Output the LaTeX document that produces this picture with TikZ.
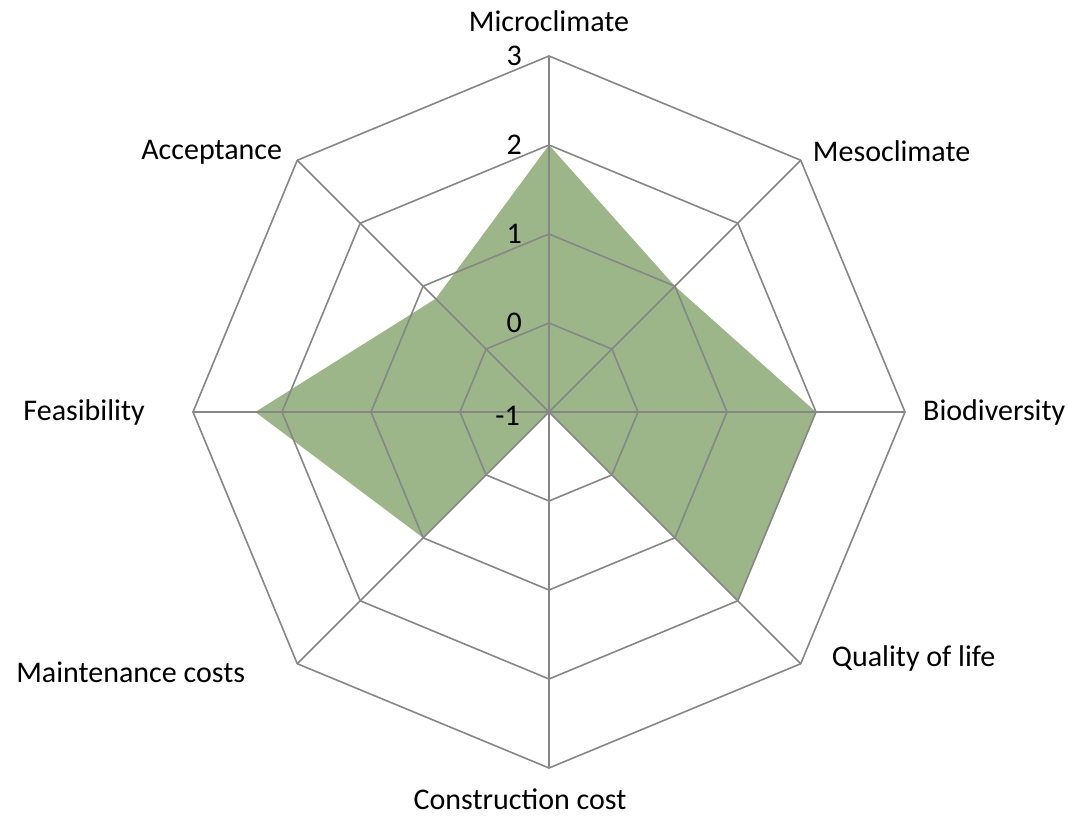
\documentclass[tikz,border=0pt]{standalone}
\usepackage{fontspec}
\setmainfont{Carlito}
\usetikzlibrary{positioning}

\definecolor{gridgray}{RGB}{134,134,134}
\definecolor{areagreen}{RGB}{156,182,138}

\begin{document}
\begin{tikzpicture}[x=1pt, y=1pt,
    grid_line/.style={draw=gridgray, line width=1.6pt, line join=miter},
    axis_label/.style={inner sep=0pt, font=\fontsize{30}{36}\selectfont},
    tick_label/.style={inner sep=0pt, font=\fontsize{30}{36}\selectfont}]
    \useasboundingbox (-549,-404) rectangle (519,412);
    \coordinate (c) at (0,0);
    % ring points: p<axis>-<ring>, ring 0 is the value -1
    \foreach \a [count=\i] in {90,45,0,-45,-90,-135,180,135} {
        \foreach \r in {0,...,4}
            \coordinate (p\i-\r) at (\a:\r*89);
    }
    % data points
    \foreach \a/\v [count=\i] in {90/2,45/1,0/2,-45/2,-90/-1,-135/1,180/2.3,135/0.8}
        \coordinate (v\i) at (\a:{(\v+1)*89});
    \fill[areagreen] (v1) -- (v2) -- (v3) -- (v4) -- (v5) -- (v6) -- (v7) -- (v8) -- cycle;
    % grid
    \foreach \r in {1,...,4}
        \draw[grid_line] (p1-\r) -- (p2-\r) -- (p3-\r) -- (p4-\r) -- (p5-\r) -- (p6-\r) -- (p7-\r) -- (p8-\r) -- cycle;
    \foreach \i in {1,...,8}
        \draw[grid_line] (c) -- (p\i-4);
    % scale
    \node[tick_label, left=29pt of p1-0, yshift=-4pt] (tm1) {-1};
    \node[tick_label, left=27pt of p1-1] (t0) {0};
    \node[tick_label, left=27pt of p1-2] (t1) {1};
    \node[tick_label, left=27pt of p1-3] (t2) {2};
    \node[tick_label, left=27pt of p1-4] (t3) {3};
    % axis names
    \node[axis_label, above=24pt of p1-4, anchor=base] (micro) {Microclimate};
    \node[axis_label, right=12pt of p2-4, anchor=base west, yshift=-1pt] (meso) {Mesoclimate};
    \node[axis_label, right=18pt of p3-4, anchor=base west, yshift=-9pt] (bio) {Biodiversity};
    \node[axis_label, right=31pt of p4-4, anchor=base west, yshift=-3pt] (qol) {Quality of life};
    \node[axis_label, below=41pt of p5-4, anchor=base, xshift=-29pt] (constr) {Construction cost};
    \node[axis_label, left=52pt of p6-4, anchor=base east, yshift=-19pt] (maint) {Maintenance costs};
    \node[axis_label, left=48pt of p7-4, anchor=base east, yshift=-9pt] (feas) {Feasibility};
    \node[axis_label, left=15pt of p8-4, anchor=base east, yshift=1pt] (accept) {Acceptance};
\end{tikzpicture}
\end{document}
